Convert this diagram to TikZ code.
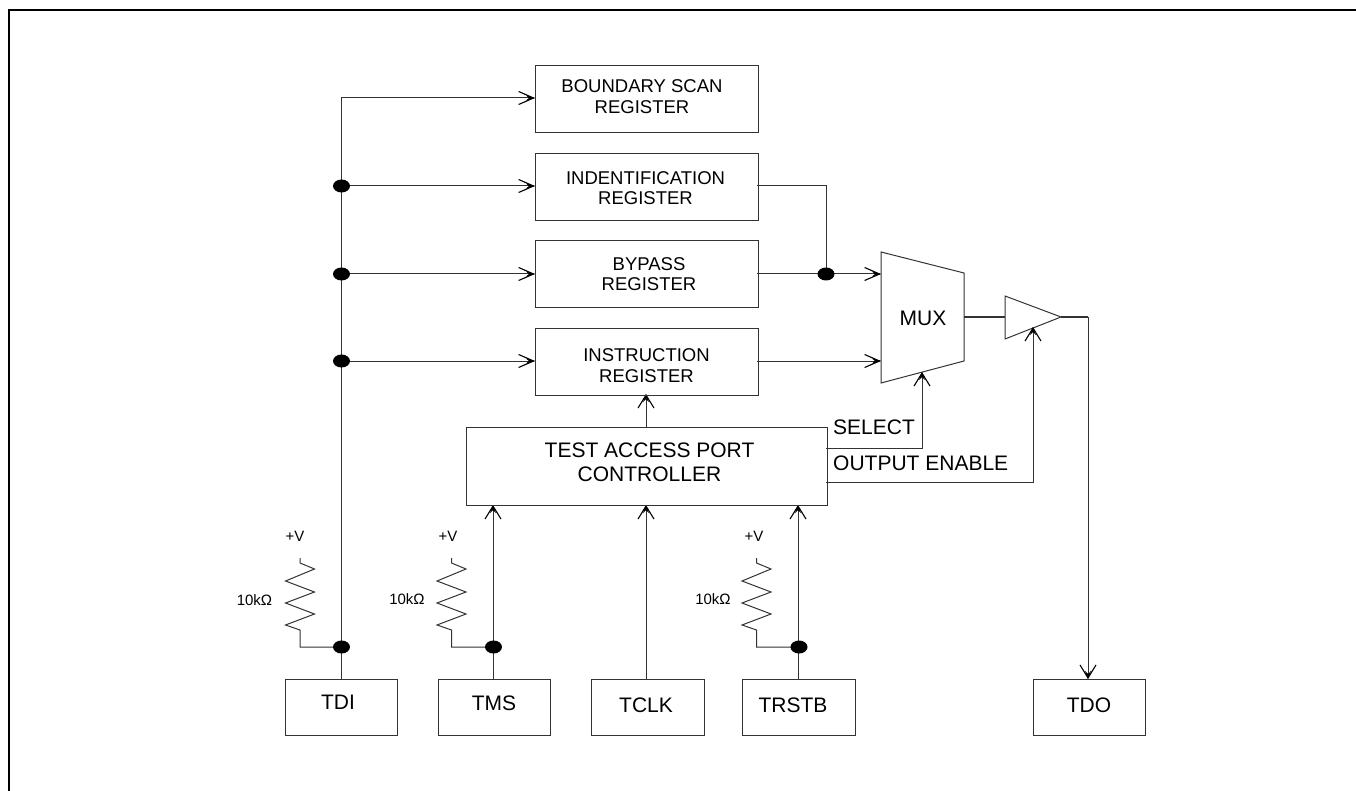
\documentclass[tikz,border=0pt]{standalone}
\usepackage{fontspec}
\setmainfont{Liberation Sans}
\usetikzlibrary{arrows.meta,backgrounds,shapes.geometric}
\tikzset{
  x=1pt,y=-1pt,
  wire/.style={line width=1pt,black!80},
  harr/.style={wire,-{Straight Barb[length=15pt,width=13pt,line width=1.1pt,color=black,sep=-9pt]Stealth[length=9pt,width=5pt,inset=3pt,color=black]}},
  varr/.style={wire,-{Straight Barb[length=13pt,width=16pt,line width=1.1pt,color=black,sep=-8pt]Stealth[length=8pt,width=6pt,inset=3pt,color=black]}},
  box/.style={draw=black!80,line width=1pt,inner sep=0pt,align=center,anchor=north west},
  dot/.style={fill=black,draw=none,ellipse,minimum width=17pt,minimum height=13pt,inner sep=0pt},
  regtext/.style={font=\fontsize{18.5}{20.5}\selectfont,inner sep=0pt,align=center},
  large/.style={font=\fontsize{21}{24}\selectfont,inner sep=0pt,align=center},
  tinytext/.style={font=\fontsize{15}{17}\selectfont,inner sep=0pt},
}
\begin{document}
\begin{tikzpicture}
\useasboundingbox (0,0) rectangle (1356,791);
\draw[line width=2pt,black] (9,791) -- (9,10) -- (1356,10);
\node[box,minimum width=223pt,minimum height=67pt] (bsr) at (535,65) {};
\node[box,minimum width=223pt,minimum height=67pt] (idr) at (535,153) {};
\node[box,minimum width=223pt,minimum height=67pt] (byp) at (535,240) {};
\node[box,minimum width=223pt,minimum height=67pt] (ir) at (535,328) {};
\node[box,minimum width=361pt,minimum height=78pt] (tap) at (466,427) {};
\node[box,minimum width=112pt,minimum height=56pt] (tdi) at (285,679) {};
\node[box,minimum width=112pt,minimum height=56pt] (tms) at (438,679) {};
\node[box,minimum width=113pt,minimum height=56pt] (tclk) at (591,679) {};
\node[box,minimum width=113pt,minimum height=56pt] (trstb) at (742,679) {};
\node[box,minimum width=112pt,minimum height=56pt] (tdo) at (1033,679) {};
\node[regtext] at (642,96.5) {BOUNDARY SCAN\\REGISTER};
\node[regtext] at (645.5,188) {INDENTIFICATION\\REGISTER};
\node[regtext] at (649,274) {BYPASS\\REGISTER};
\node[regtext] at (646.5,365.5) {INSTRUCTION\\REGISTER};
\node[large] at (649.5,462) {TEST ACCESS PORT\\CONTROLLER};
\node[large] at (338,702) {TDI};
\node[large] at (494,703) {TMS};
\node[large] at (646,705) {TCLK};
\node[large] at (793,705) {TRSTB};
\node[large] at (1089,705) {TDO};
% MUX and buffer
\coordinate (m1) at (881,252); \coordinate (m2) at (964,273);
\coordinate (m3) at (964,361); \coordinate (m4) at (881,383);
\coordinate (b1) at (1005,296); \coordinate (b2) at (1061,317); \coordinate (b3) at (1005,339);
\node[large] (mux) at (923,318) {MUX};
% junctions
\node[dot] (j1) at (341.5,186) {};
\node[dot] (j2) at (341.5,274) {};
\node[dot] (j3) at (341.5,361) {};
\node[dot] (j4) at (341.5,647) {};
\node[dot] (j5) at (493.5,647) {};
\node[dot] (j6) at (799,647) {};
\node[dot] (j7) at (826,274) {};
\begin{scope}[on background layer]
\draw[wire] (m1) -- (m2) -- (m3) -- (m4) -- cycle;
\draw[wire] (b1) -- (b2) -- (b3) -- cycle;
\draw[wire] (341,679) -- (341,98) coordinate (c0);
\draw[harr] (c0) -- (c0 -| bsr.west);
\draw[harr] (j1.center) -- (j1 -| idr.west);
\draw[harr] (j2.center) -- (j2 -| byp.west);
\draw[harr] (j3.center) -- (j3 -| ir.west);
\draw[wire] (757,186) -- (826,186) -- (j7.center);
\draw[wire] (757,274) -- (j7.center);
\draw[harr] (j7.center) -- (881,274);
\draw[harr] (757,361) -- (881,361);
\draw[wire] (964,317) -- (1005,317);
\draw[wire] (b2) -- (1088,317) coordinate (c1);
\draw[varr] (c1) -- (c1 |- tdo.north);
\draw[varr] (646,427) -- (646,394);
\draw[varr] (826,448) -- (922,448) -- (922,372);
\draw[varr] (826,482) -- (1033,482) -- (1033,327);
\draw[varr] (493,679) -- (493,505);
\draw[varr] (646,679) -- (646,505);
\draw[varr] (798,679) -- (798,505);
\foreach \xx/\jn in {300/j4,451.5/j5,756.5/j6}{
  \draw[wire] (\xx,558) -- (\xx,563) -- (\xx+14.5,569) -- (\xx-14.5,581) -- (\xx+14.5,592) -- (\xx-14.5,603) -- (\xx+14.5,614) -- (\xx-14.5,625) -- (\xx,630) -- (\xx,647) -- (\jn.center);
}
\end{scope}
\node[large,anchor=west] (sel) at (833,427) {SELECT};
\node[large,anchor=west] (oe) at (833,463) {OUTPUT ENABLE};
\node[tinytext] (v1) at (295,536) {+V};
\node[tinytext] (v2) at (448,536) {+V};
\node[tinytext] (v3) at (754,536) {+V};
\node[tinytext] (o1) at (254.5,600) {10kΩ};
\node[tinytext] (o2) at (407,599) {10kΩ};
\node[tinytext] (o3) at (713,599) {10kΩ};
\end{tikzpicture}
\end{document}
